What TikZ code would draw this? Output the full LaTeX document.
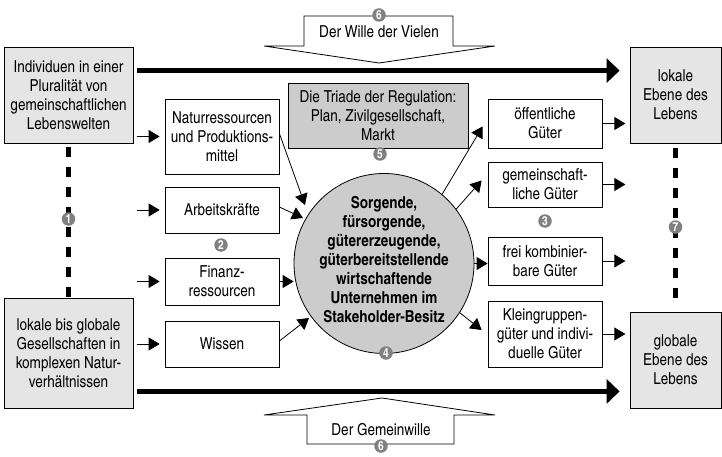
\documentclass[tikz,border=0pt]{standalone}
\usepackage{fontspec}
\setmainfont{texgyreheroscn}[Extension=.otf, UprightFont=*-regular, BoldFont=*-bold, ItalicFont=*-italic, BoldItalicFont=*-bolditalic]
\usetikzlibrary{arrows.meta,calc}
\definecolor{lightg}{gray}{0.9}
\definecolor{midg}{gray}{0.8}
\definecolor{badgeg}{gray}{0.5}
\newcommand\dfont{\fontsize{16.5}{19}\selectfont}
\newcommand\bfont{\bfseries\fontsize{16.5}{19}\selectfont}
\tikzset{
  wbox/.style={draw, line width=0.8pt, fill=white, align=center, inner sep=0pt, minimum width=114pt, font=\dfont},
  gbox/.style={wbox, fill=lightg},
  badge/.style={circle, fill=badgeg, text=white, inner sep=0pt, minimum size=13.5pt, font=\bfseries\fontsize{12.5}{12.5}\selectfont},
  arr/.style={line width=0.8pt, -{Triangle[length=11pt,width=13pt]}},
  bigarr/.style={line width=4.2pt, -{Triangle[length=13pt,width=24pt]}},
  dashline/.style={line width=5pt, dash pattern=on 10pt off 10pt},
  shapeline/.style={line width=0.8pt, fill=white, line join=miter},
}
\begin{document}
\begin{tikzpicture}[x=1pt,y=-1pt]
\useasboundingbox (0,0) rectangle (722,457);

% outer boxes
\node[gbox, minimum width=129pt, minimum height=96pt] (ind) at (68.5,95) {Individuen in einer\\Pluralität von\\gemeinschaftlichen\\Lebenswelten};
\node[gbox, minimum width=129pt, minimum height=110pt] (soc) at (68.5,353) {lokale bis globale\\Gesellschaften in\\komplexen Natur-\\verhältnissen};
\node[gbox, minimum width=91pt, minimum height=96pt] (lok) at (675.5,95) {lokale\\Ebene des\\Lebens};
\node[gbox, minimum width=91pt, minimum height=96pt] (glob) at (675.5,360) {globale\\Ebene des\\Lebens};

% left column
\node[wbox, minimum height=75pt] (nat) at (222,136.5) {Naturressourcen\\und Produktions-\\mittel};
\node[wbox, minimum height=46pt] (arb) at (222,210) {Arbeitskräfte};
\node[wbox, minimum height=47pt] (fin) at (222,281.5) {Finanz-\\ressourcen};
\node[wbox, minimum height=46pt] (wis) at (222,344) {Wissen};

% right column
\node[wbox, minimum height=49pt] (oeff) at (545,123.5) {öffentliche\\Güter};
\node[wbox, minimum height=45pt] (gem) at (545,184.5) {gemeinschaft-\\liche Güter};
\node[wbox, minimum height=48pt] (frei) at (545,261) {frei kombinier-\\bare Güter};
\node[wbox, minimum height=66pt] (klein) at (545,334) {Kleingruppen-\\güter und indivi-\\duelle Güter};

% triade
\node[wbox, fill=midg, minimum width=180pt, minimum height=65pt] (tri) at (378,115.5) {Die Triade der Regulation:\\Plan, Zivilgesellschaft,\\Markt};

% circle
\node[circle, draw, line width=0.8pt, fill=midg, minimum size=180pt, inner sep=0pt] (circ) at (384,263.5) {};
\node[align=center, font=\bfont, inner sep=0pt] (circtext) at (384,260) {Sorgende,\\fürsorgende,\\gütererzeugende,\\güterbereitstellende\\wirtschaftende\\Unternehmen im\\Stakeholder-Besitz};

% thick arrows
\draw[bigarr] ($(ind.north east)+(4,24)$) -- ($(lok.north west)+(-10,24)$);
\draw[bigarr] ($(soc.south east)+(4,-17)$) -- ($(glob.south west)+(-10,-17)$);

% dashed verticals
\draw[dashline] ($(ind.south)+(0,4)$) -- ($(soc.north)+(0,-1)$);
\draw[dashline] ($(lok.south)+(0,5)$) -- ($(glob.north)+(0,-10)$);

% small input arrows
\foreach \n in {nat,arb,fin,wis}
  \draw[arr] ($(\n.west)+(-28,0)$) -- ($(\n.west)+(-5,0)$);
% small output arrows
\foreach \n in {oeff,gem,frei,klein}
  \draw[arr] (\n.east) -- ($(\n.east)+(23,0)$);

% arrows into circle
\coordinate (tnat) at (305,205);
\coordinate (tarb) at (303,218);
\coordinate (twis) at (309,318);
\draw[arr] ($(nat.east)+(0,-3)$) -- (tnat);
\draw[arr] ($(arb.east)+(0,-3)$) -- (tarb);
\draw[arr] (fin.east) -- (fin.east -| circ.west);
\draw[arr] ($(wis.east)+(0,-3)$) -- (twis);

% arrows out of circle
\draw[arr] (circ.50) -- ($(oeff.west)+(-5,3)$);
\draw[arr] (circ.37) -- ($(gem.west)+(-6,-4)$);
\draw[arr] (circ.east) -- (circ.east -| frei.west);
\draw[arr] (circ.-33) -- ($(klein.west)+(-6,-4)$);

% top and bottom arrow shapes
\draw[shapeline] (304,16) -- (453,16) -- (453,46) -- (495,46) -- (379,63) -- (264,46) -- (304,46) -- cycle;
\node[font=\dfont, inner sep=0pt] (wille) at (379,32) {Der Wille der Vielen};
\draw[shapeline] (307,444) -- (454,444) -- (454,415) -- (495,415) -- (382,398) -- (264,415) -- (307,415) -- cycle;
\node[font=\dfont, inner sep=0pt] (gwille) at (381,430) {Der Gemeinwille};

% badges
\node[badge] (b1) at (68.5,219) {1};
\node[badge] (b2) at (221,245) {2};
\node[badge] (b3) at (545,221) {3};
\node[badge] (b4) at (386,353) {4};
\node[badge] (b5) at (380,154) {5};
\node[badge] (b6a) at (379,15) {6};
\node[badge] (b6b) at (381,446) {6};
\node[badge] (b7) at (675.5,227) {7};
\end{tikzpicture}
\end{document}
